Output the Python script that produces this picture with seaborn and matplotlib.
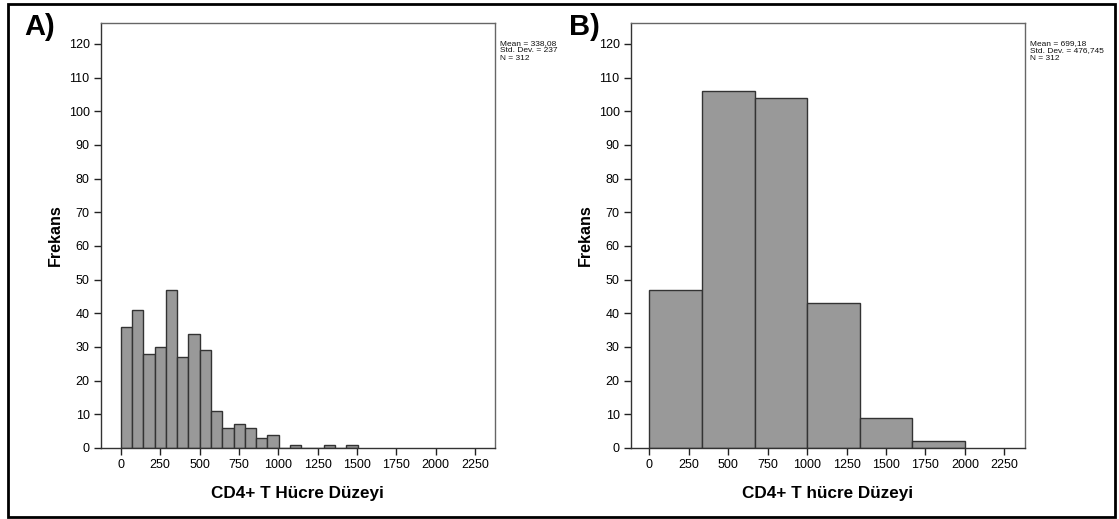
import numpy as np
import pandas as pd
import matplotlib
matplotlib.use("Agg")
import matplotlib.pyplot as plt
import seaborn as sns
from matplotlib.patches import Rectangle

# ---- data ----
counts_a = [36, 41, 28, 30, 47, 27, 34, 29, 11, 6, 7, 6, 3, 4, 0, 1, 0, 0, 1, 0, 1]
bin_start_a = 0.0
bin_width_a = 71.6

counts_b = [47, 106, 104, 43, 9, 2]
bin_start_b = 0.0
bin_width_b = 1000.0 / 3.0

x_ticks = [0, 250, 500, 750, 1000, 1250, 1500, 1750, 2000, 2250]
y_ticks = [0, 10, 20, 30, 40, 50, 60, 70, 80, 90, 100, 110, 120]

stats_a = ["Mean = 338,08", "Std. Dev. = 237", "N = 312"]
stats_b = ["Mean = 699,18", "Std. Dev. = 476,745", "N = 312"]
xlabel_a = "CD4+ T Hücre Düzeyi"
xlabel_b = "CD4+ T hücre Düzeyi"
ylabel = "Frekans"
panel_labels = ["A)", "B)"]

sns.set_theme(style="ticks")
plt.rcParams['font.family'] = ['Liberation Sans', 'DejaVu Sans']

W, H = 1119, 519
fig = plt.figure(figsize=(W / 100, H / 100), dpi=100)


def px_axes(left, top, right, bottom):
    return [left / W, 1 - bottom / H, (right - left) / W, (bottom - top) / H]


axA = fig.add_axes(px_axes(100.7, 22.7, 495, 448))
axB = fig.add_axes(px_axes(630.7, 22.7, 1025, 448))


def draw(ax, counts, start, width, xlim, xlabel, stats, stats_x, panel, panel_x):
    n = len(counts)
    edges = [float(start + width * k) for k in range(n + 1)]
    centers = [(edges[k] + edges[k + 1]) / 2 for k in range(n)]
    df = pd.DataFrame({"x": centers, "w": counts})
    sns.histplot(data=df, x="x", weights="w", bins=edges, ax=ax,
                 color="#999999", edgecolor="#333333", linewidth=1.0, alpha=1.0)
    ax.set_xlim(*xlim)
    ax.set_ylim(0, 126.3)
    ax.set_xticks(x_ticks)
    ax.set_yticks(y_ticks)
    ax.set_xlabel("")
    ax.set_ylabel("")
    ax.tick_params(axis="both", direction="out", length=5, width=1,
                   color="#222222", labelsize=9, labelcolor="#000000")
    ax.tick_params(axis="x", pad=3)
    ax.tick_params(axis="y", pad=3)
    for s in ["left", "bottom"]:
        ax.spines[s].set_color("#333333")
        ax.spines[s].set_linewidth(1.0)
    for s in ["top", "right"]:
        ax.spines[s].set_visible(True)
        ax.spines[s].set_color("#666666")
        ax.spines[s].set_linewidth(1.0)
    ax.text(0.5, -0.106, xlabel, transform=ax.transAxes, ha="center", va="center",
            fontsize=12.3, fontweight="bold", color="#000000")
    ax.text(-0.116, 0.5, ylabel, transform=ax.transAxes, ha="center", va="center",
            rotation=90, fontsize=11.5, fontweight="bold", color="#000000")
    for i, line in enumerate(stats):
        fig.text(stats_x / W, 1 - (43.3 + 7.5 * i) / H, line, ha="left", va="center",
                 fontsize=6, color="#111111")
    fig.text(panel_x / W, 1 - 27 / H, panel, ha="left", va="center",
             fontsize=21, fontweight="bold", color="#000000")


draw(axA, counts_a, bin_start_a, bin_width_a, (-128, 2377), xlabel_a, stats_a, 500, panel_labels[0], 24)
draw(axB, counts_b, bin_start_b, bin_width_b, (-118, 2381), xlabel_b, stats_b, 1030, panel_labels[1], 569)

# outer frame
fig.patches.append(Rectangle((8 / W, 1 - 517 / H), (1115 - 8) / W, (517 - 4) / H,
                             transform=fig.transFigure, fill=False,
                             edgecolor="black", linewidth=2))

fig.savefig("out.png", dpi=100)
